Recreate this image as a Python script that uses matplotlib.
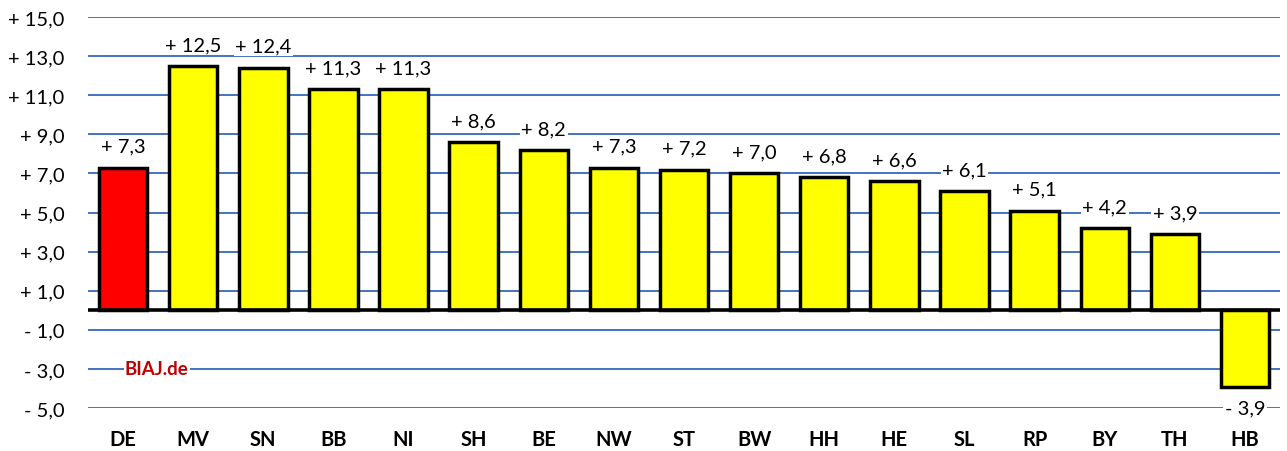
import numpy as np
import matplotlib.pyplot as plt

laender = ["DE", "MV", "SN", "BB", "NI", "SH", "BE", "NW", "ST", "BW",
           "HH", "HE", "SL", "RP", "BY", "TH", "HB"]
werte = [7.3, 12.5, 12.4, 11.3, 11.3, 8.6, 8.2, 7.3, 7.2, 7.0,
         6.8, 6.6, 6.1, 5.1, 4.2, 3.9, -3.9]
yticks = [-5, -3, -1, 1, 3, 5, 7, 9, 11, 13, 15]

plt.rcParams['font.family'] = ['Lato', 'DejaVu Sans']


def fmt(v, nd=1):
    s = f"{abs(v):.{nd}f}".replace(".", ",")
    return ("- " if v < 0 else "+ ") + s


fig = plt.figure(figsize=(12.87, 4.52), dpi=100)
ax = fig.add_axes([0.0684, 0.0951, 0.9262, 0.865])

x = np.arange(len(laender))
farben = ["#FF0000"] + ["#FFFF00"] * (len(laender) - 1)
ax.bar(x, werte, width=0.69, color=farben, edgecolor="black", linewidth=2.5, zorder=3)

for yt in yticks:
    ax.axhline(yt, color="#4472C4", linewidth=1.4, zorder=1)
ax.axhline(0, color="black", linewidth=2.6, zorder=4)

for xi, v in zip(x, werte):
    off = 1.1 if v >= 0 else -1.1
    ax.text(xi, v + off, fmt(v), ha="center", va="center", fontsize=14.5,
            bbox=dict(facecolor="white", edgecolor="none", pad=1), zorder=5)

ax.text(0.48, -3, "BIAJ.de", ha="center", va="center", fontsize=13.5,
        fontweight="bold", color="#C00000",
        bbox=dict(facecolor="white", edgecolor="none", pad=1), zorder=5)

ax.set_xlim(-0.5, len(laender) - 0.5)
ax.set_ylim(-5, 15)
ax.set_yticks(yticks)
ax.set_yticklabels([fmt(v) for v in yticks], fontsize=14.5)
ax.set_xticks(x)
ax.set_xticklabels(laender, fontsize=14.5, fontweight="bold")
ax.tick_params(axis="both", length=0)
ax.tick_params(axis="y", pad=17)
ax.tick_params(axis="x", pad=15)
for s in ax.spines.values():
    s.set_visible(False)

fig.savefig("out.png", dpi=100)
